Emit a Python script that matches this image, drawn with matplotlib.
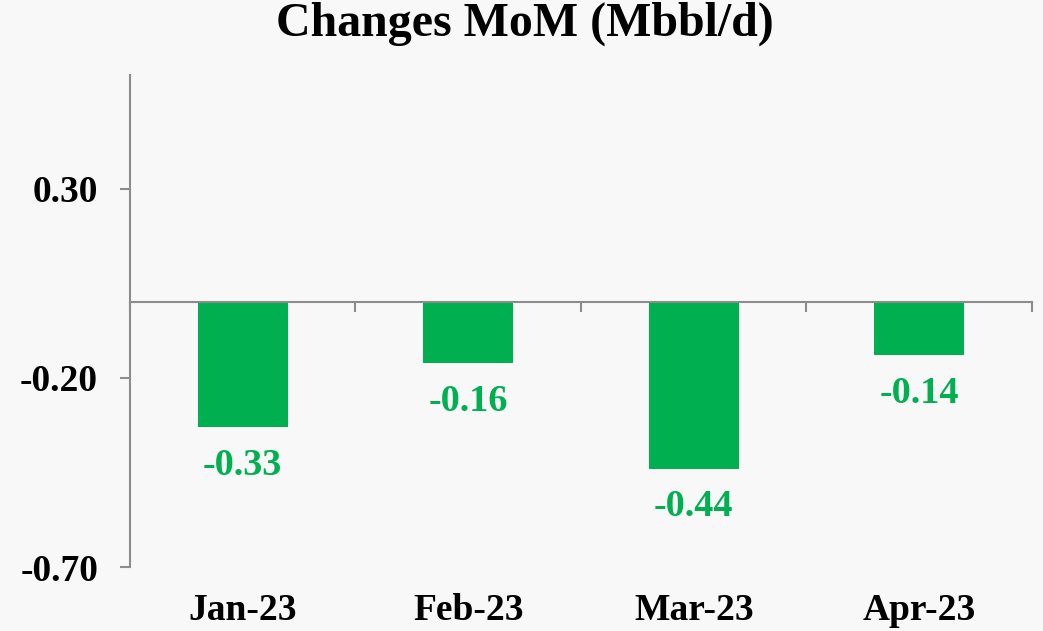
import numpy as np
import matplotlib.pyplot as plt
from matplotlib import transforms

months = ["Jan-23", "Feb-23", "Mar-23", "Apr-23"]
changes = [-0.33, -0.16, -0.44, -0.14]
y_ticks = [-0.70, -0.20, 0.30]

GREEN = "#00B050"
GRAY = "#8C8C8C"
BG = "#F8F8F8"

plt.rcParams["font.family"] = ["Liberation Serif", "DejaVu Serif"]
plt.rcParams["font.weight"] = "bold"

fig = plt.figure(figsize=(10.43, 6.31), dpi=100, facecolor=BG)
ax = fig.add_axes([0.1246, 0.1014, 0.8648, 0.7796])
ax.set_facecolor("none")

x = np.arange(len(months))
bars = ax.bar(x, changes, width=0.4, color=GREEN, zorder=2)

for xi, v in zip(x, changes):
    ax.annotate(f"{v:.2f}", (xi, v), xytext=(0, -15), textcoords="offset points",
                ha="center", va="top", color=GREEN, fontsize=27.5, fontweight="bold")

ax.set_xlim(-0.5, len(months) - 0.5)
ax.set_ylim(-0.70, 0.60)
ax.set_yticks(y_ticks)
ax.set_yticklabels([f"{t:.2f}" for t in y_ticks], fontsize=27, fontweight="bold")

ax.spines["top"].set_visible(False)
ax.spines["right"].set_visible(False)
ax.spines["bottom"].set_position(("data", 0))
for s in ("left", "bottom"):
    ax.spines[s].set_color(GRAY)
    ax.spines[s].set_linewidth(1.5)

ax.set_xticks(np.arange(len(months) + 1) - 0.5)
ax.set_xticklabels([])
ax.tick_params(axis="both", colors=GRAY, length=7, width=1.5, direction="out")
ax.tick_params(axis="y", labelcolor="black", pad=16)

trans = transforms.blended_transform_factory(ax.transData, ax.transAxes)
for xi, m in zip(x, months):
    ax.text(xi, -0.088, m, transform=trans, ha="center", va="center",
            fontsize=27, fontweight="bold")

fig.text(0.503, 0.962, "Changes MoM (Mbbl/d)", ha="center", va="center",
         fontsize=34.5, fontweight="bold")

fig.savefig("out.png", dpi=100, facecolor=BG)
